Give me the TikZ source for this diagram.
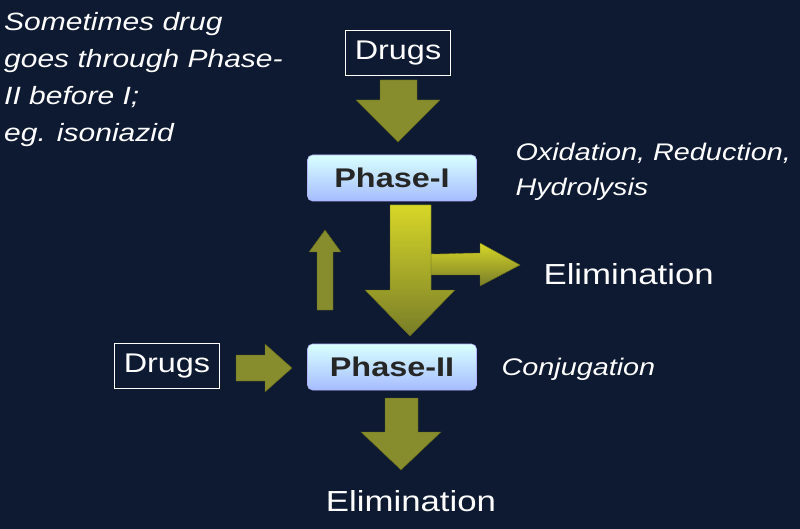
\documentclass[tikz,border=0pt]{standalone}
\usepackage{fontspec}
\setmainfont{Liberation Sans}[FakeStretch=1.2]
\begin{document}
\begin{tikzpicture}[x=1pt,y=-1pt,
  phase/.style={draw=white!70!blue, line width=0.6pt, rounded corners=5pt, top color=white!85!cyan, bottom color=cyan!25!blue!35, minimum width=169pt, minimum height=46pt, font=\fontsize{27}{27}\selectfont\bfseries, text=black!85},
  drugbox/.style={draw=white, line width=1.5pt, minimum width=105pt, minimum height=45pt, font=\fontsize{27}{27}\selectfont, text=white},
  note/.style={text=white, font=\fontsize{25}{37}\selectfont\itshape, align=left},
  elim/.style={text=white, font=\fontsize{29}{29}\selectfont},
  arr/.style={fill={rgb,255:red,135;green,140;blue,45}, draw={rgb,255:red,90;green,95;blue,25}, line width=0.4pt},
  grad/.style={top color={rgb,255:red,215;green,215;blue,40}, bottom color={rgb,255:red,120;green,125;blue,40}}]
\fill[color={rgb,255:red,14;green,26;blue,50}] (0,0) rectangle (800,529);
\useasboundingbox (0,0) rectangle (800,529);
\node[note, anchor=north west, inner sep=0pt] (t1) at (4,12) {Sometimes drug\\goes through Phase-\\II before I;\\eg. isoniazid};
\node[drugbox] (d1) at (398,53) {Drugs};
\node[phase] (p1) at (392,178) {Phase-I};
\node[phase] (p2) at (392,367) {Phase-II};
\node[drugbox] (d2) at (167,366) {Drugs};
\node[note, anchor=west, font=\fontsize{24}{35}\selectfont\itshape] (ox) at (512,172) {Oxidation, Reduction,\\Hydrolysis};
\node[note, anchor=west, font=\fontsize{24}{35}\selectfont\itshape] (cj) at (498,369) {Conjugation};
\node[elim, anchor=west] (e1) at (540,274) {Elimination};
\node[elim] (e2) at (411,501) {Elimination};
% top down arrow
\path[arr] (380,80) -- (417,80) -- (417,100) -- (440,100) -- (398,142) -- (356,100) -- (380,100) -- cycle;
% curved branch arrow
\path[arr, grad] (412,246) .. controls (420,258) and (440,253) .. (480,253) -- (480,243) -- (520,265) -- (480,286) -- (480,275) -- (430,275) .. controls (418,275) and (412,268) .. (412,262) -- cycle;
% big down arrow
\path[arr, grad] (390,205) -- (431,205) -- (431,290) -- (455,290) -- (410,336) -- (365,290) -- (390,290) -- cycle;
% up arrow
\path[arr] (317,310) -- (333,310) -- (333,252) -- (341,252) -- (325,230) -- (309,252) -- (317,252) -- cycle;
% right arrow
\path[arr] (236,355) -- (265,355) -- (265,344) -- (292,368) -- (265,392) -- (265,381) -- (236,381) -- cycle;
% bottom down arrow
\path[arr] (385,398) -- (418,398) -- (418,432) -- (441,432) -- (401,470) -- (361,432) -- (385,432) -- cycle;
\end{tikzpicture}
\end{document}
